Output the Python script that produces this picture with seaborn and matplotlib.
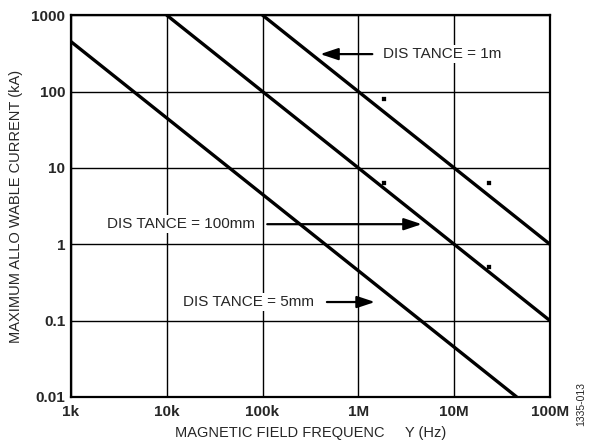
import matplotlib
matplotlib.use("Agg")
import matplotlib.pyplot as plt
import seaborn as sns
import pandas as pd
import numpy as np

# ---- data ----
distances = ["5mm", "100mm", "1m"]
freq_5mm = [1e3, 4.5e7]
cur_5mm = [450, 0.01]
freq_100mm = [1e4, 1e8]
cur_100mm = [1000, 0.1]
freq_1m = [1e5, 1e8]
cur_1m = [1000, 1]

dot_freq = [1.85e6, 1.85e6, 2.3e7, 2.3e7]
dot_cur = [80, 6.3, 6.3, 0.51]

x_ticks = [1e3, 1e4, 1e5, 1e6, 1e7, 1e8]
x_labels = ["1k", "10k", "100k", "1M", "10M", "100M"]
y_ticks = [0.01, 0.1, 1, 10, 100, 1000]
y_labels = ["0.01", "0.1", "1", "10", "100", "1000"]

df = pd.DataFrame({
    "freq": freq_5mm + freq_100mm + freq_1m,
    "current": cur_5mm + cur_100mm + cur_1m,
    "distance": [distances[0]] * 2 + [distances[1]] * 2 + [distances[2]] * 2,
})
dots = pd.DataFrame({"freq": dot_freq, "current": dot_cur})

sns.set_theme(style="white")
plt.rcParams["font.family"] = ["Liberation Sans", "DejaVu Sans"]

fig = plt.figure(figsize=(5.9, 4.46), dpi=100)
ax = fig.add_axes([0.1203, 0.110, 0.932 - 0.1203, 0.966 - 0.110])

ax.set_xscale("log")
ax.set_yscale("log")
ax.set_xlim(1e3, 1e8)
ax.set_ylim(0.01, 1000)

ax.set_xticks(x_ticks)
ax.set_xticklabels(x_labels)
ax.set_yticks(y_ticks)
ax.set_yticklabels(y_labels)
ax.minorticks_off()
ax.tick_params(axis="y", length=0, labelsize=11, pad=4)
ax.tick_params(axis="x", length=0, labelsize=11, pad=6)
for lbl in ax.get_xticklabels() + ax.get_yticklabels():
    lbl.set_fontweight("bold")

ax.grid(True, which="major", color="black", linewidth=1.0, zorder=0)
ax.set_axisbelow(True)

sns.lineplot(data=df, x="freq", y="current", units="distance", estimator=None,
             color="black", linewidth=2.4, ax=ax, legend=False, zorder=3)
sns.scatterplot(data=dots, x="freq", y="current", marker="s", s=6,
                color="black", edgecolor="black", ax=ax, legend=False, zorder=3)

for sp in ax.spines.values():
    sp.set_color("black")
    sp.set_linewidth(1.6)

ax.set_xlabel("MAGNETIC FIELD FREQUENC     Y (Hz)", fontsize=10.5, labelpad=5)
ax.set_ylabel("MAXIMUM ALLO WABLE CURRENT (kA)", fontsize=10.5, labelpad=6)

bbox = dict(facecolor="white", edgecolor="none", pad=1.5)
arrowprops = dict(arrowstyle="-|>,head_length=0.9,head_width=0.3", color="black",
                  linewidth=1.6, shrinkA=0, shrinkB=0)

ax.text(1.8e6, 309, "DIS TANCE = 1m", fontsize=11, va="center", ha="left", bbox=bbox, zorder=4)
ax.annotate("", xy=(4.0e5, 309), xytext=(1.4e6, 309), arrowprops=arrowprops, zorder=4)

ax.text(2.4e3, 1.83, "DIS TANCE = 100mm", fontsize=11, va="center", ha="left", bbox=bbox, zorder=4)
ax.annotate("", xy=(4.6e6, 1.83), xytext=(1.12e5, 1.83), arrowprops=arrowprops, zorder=4)

ax.text(1.48e4, 0.175, "DIS TANCE = 5mm", fontsize=11, va="center", ha="left", bbox=bbox, zorder=4)
ax.annotate("", xy=(1.49e6, 0.175), xytext=(4.7e5, 0.175), arrowprops=arrowprops, zorder=4)

fig.text(0.985, 0.095, "1335-013", rotation=90, fontsize=7.5, ha="center", va="center")

fig.savefig("out.png", dpi=100)
